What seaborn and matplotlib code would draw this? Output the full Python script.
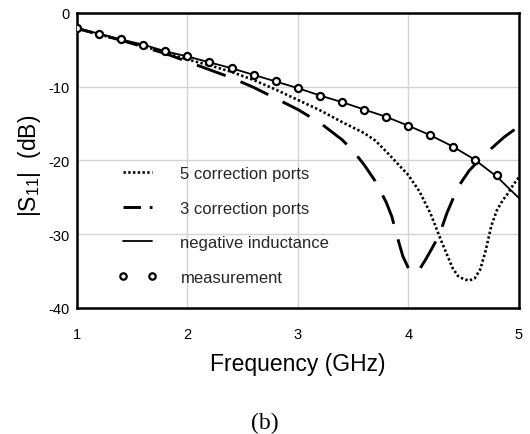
import numpy as np
import pandas as pd
import matplotlib
matplotlib.use("Agg")
import matplotlib.pyplot as plt
from matplotlib.lines import Line2D
import seaborn as sns

# ---- data ----
freq_meas = [1.0, 1.2, 1.4, 1.6, 1.8, 2.0, 2.2, 2.4, 2.6, 2.8, 3.0, 3.2, 3.4, 3.6, 3.8,
             4.0, 4.2, 4.4, 4.6, 4.8]
s11_meas = [-2.1, -2.8, -3.6, -4.3, -5.2, -5.9, -6.7, -7.5, -8.4, -9.3, -10.2, -11.2, -12.1,
            -13.1, -14.1, -15.4, -16.6, -18.2, -19.9, -22.0]

freq_neg = [1.0, 1.2, 1.4, 1.6, 1.8, 2.0, 2.2, 2.4, 2.6, 2.8, 3.0, 3.2, 3.4, 3.6, 3.8,
            4.0, 4.2, 4.4, 4.6, 4.8, 5.0]
s11_neg = [-2.1, -2.8, -3.6, -4.3, -5.2, -5.9, -6.7, -7.5, -8.4, -9.3, -10.2, -11.2, -12.1,
           -13.1, -14.1, -15.3, -16.6, -18.1, -19.9, -22.2, -25.1]

freq_5p = [1.0, 1.2, 1.4, 1.6, 1.8, 2.0, 2.2, 2.4, 2.6, 2.8, 3.0, 3.2, 3.4, 3.6, 3.7, 3.8,
           3.9, 4.0, 4.1, 4.2, 4.3, 4.4, 4.45, 4.5, 4.55, 4.6, 4.65, 4.7, 4.75, 4.8, 4.85,
           4.9, 4.95, 5.0]
s11_5p = [-2.1, -2.9, -3.7, -4.5, -5.4, -6.3, -7.1, -8.0, -9.1, -10.4, -11.8, -13.2, -14.8,
          -16.3, -17.3, -18.8, -20.4, -22.0, -24.2, -27.2, -31.0, -34.6, -35.7, -36.1, -36.3,
          -36.0, -34.8, -32.2, -28.9, -26.8, -25.5, -24.5, -23.3, -22.3]

freq_3p = [1.0, 1.2, 1.4, 1.6, 1.8, 2.0, 2.2, 2.4, 2.6, 2.8, 3.0, 3.2, 3.4, 3.5, 3.6, 3.7,
           3.8, 3.85, 3.9, 3.95, 4.0, 4.05, 4.1, 4.15, 4.2, 4.28, 4.35, 4.45, 4.55, 4.65,
           4.75, 4.87, 5.0]
s11_3p = [-2.1, -2.9, -3.7, -4.6, -5.5, -6.6, -7.7, -8.8, -10.1, -11.6, -13.1, -14.9, -17.2,
          -18.7, -20.6, -22.8, -25.7, -27.6, -30.4, -33.0, -34.6, -35.3, -34.8, -33.6, -32.3,
          -30.1, -27.1, -23.6, -21.4, -19.8, -18.4, -16.8, -15.4]

x_ticks = [1, 2, 3, 4, 5]
y_ticks = [0, -10, -20, -30, -40]
labels = ["5 correction ports", "3 correction ports", "negative inductance", "measurement"]

# ---- style ----
sns.set_theme(style="white")
plt.rcParams["font.family"] = ["Liberation Sans", "DejaVu Sans"]
plt.rcParams["mathtext.default"] = "regular"

fig = plt.figure(figsize=(5.30, 4.35), dpi=100)
ax = fig.add_axes([0.145, 0.290, 0.834, 0.678])

lw_dot = 1.9
lw_dash = 2.1
dash_on, dash_off = 10.5, 5.5
dot_ls = (0, (0.9, 0.9))
sns.lineplot(x=freq_5p, y=s11_5p, ax=ax, color="black", lw=lw_dot,
             linestyle=dot_ls, sort=False, zorder=3)
sns.lineplot(x=freq_3p, y=s11_3p, ax=ax, color="black", lw=lw_dash,
             linestyle=(0, (dash_on, dash_off)), sort=False, zorder=3)
dash_line = ax.lines[-1]
sns.lineplot(x=freq_neg, y=s11_neg, ax=ax, color="black", lw=1.3,
             linestyle="-", sort=False, zorder=4)
sns.scatterplot(x=freq_meas, y=s11_meas, ax=ax, marker="o", s=26,
                facecolor="white", edgecolor="black", linewidth=1.6, zorder=5)

ax.set_xlim(1, 5)
ax.set_ylim(-40, 0)

# phase the dash pattern so that a dash ends at the bottom of the 3-port dip (as in the reference)
pix = ax.transData.transform(np.column_stack([freq_3p, s11_3p]))
seg = np.hypot(*np.diff(pix, axis=0).T)
k = freq_3p.index(4.0)
L_pts = seg[:k].sum() * 72.0 / fig.dpi
offset = (dash_on - L_pts / lw_dash) % (dash_on + dash_off)
dash_line.set_linestyle((offset, (dash_on, dash_off)))

ax.set_xticks(x_ticks)
ax.set_yticks(y_ticks)
ax.set_xticklabels([str(t) for t in x_ticks])
ax.set_yticklabels([str(t) for t in y_ticks])
ax.grid(True, color="#d4d4d4", lw=1.0)
ax.set_axisbelow(True)
for sp in ax.spines.values():
    sp.set_color("black")
    sp.set_linewidth(1.8)
ax.tick_params(axis="x", length=0, pad=14, labelsize=10.5, colors="black")
ax.tick_params(axis="y", length=0, pad=5, labelsize=10.5, colors="black")

ax.set_xlabel("Frequency (GHz)", fontsize=16.5, color="black", labelpad=8)
ax.set_ylabel("|S$_{11}$|  (dB)", fontsize=16.5, color="black")
ax.yaxis.set_label_coords(-0.077, 0.485)

handles = [
    Line2D([], [], color="black", lw=lw_dot, linestyle=dot_ls),
    Line2D([], [], color="black", lw=lw_dash, linestyle=(0, (6.0, 3.0))),
    Line2D([], [], color="black", lw=1.3, linestyle="-"),
    Line2D([], [], color="black", lw=0, marker="o", markersize=4.6,
           markerfacecolor="white", markeredgecolor="black", markeredgewidth=1.6),
]
leg = ax.legend(handles, labels, loc="upper left", bbox_to_anchor=(0.093, 0.48),
                frameon=False, fontsize=12, handlelength=2.35, handletextpad=1.4,
                labelspacing=1.17, numpoints=2, borderpad=0, borderaxespad=0)

fig.text(0.5, 0.027, "(b)", ha="center", va="center", fontsize=17,
         family=["Liberation Serif", "DejaVu Serif"], color="black")

fig.savefig("out.png", dpi=100, facecolor="white")
